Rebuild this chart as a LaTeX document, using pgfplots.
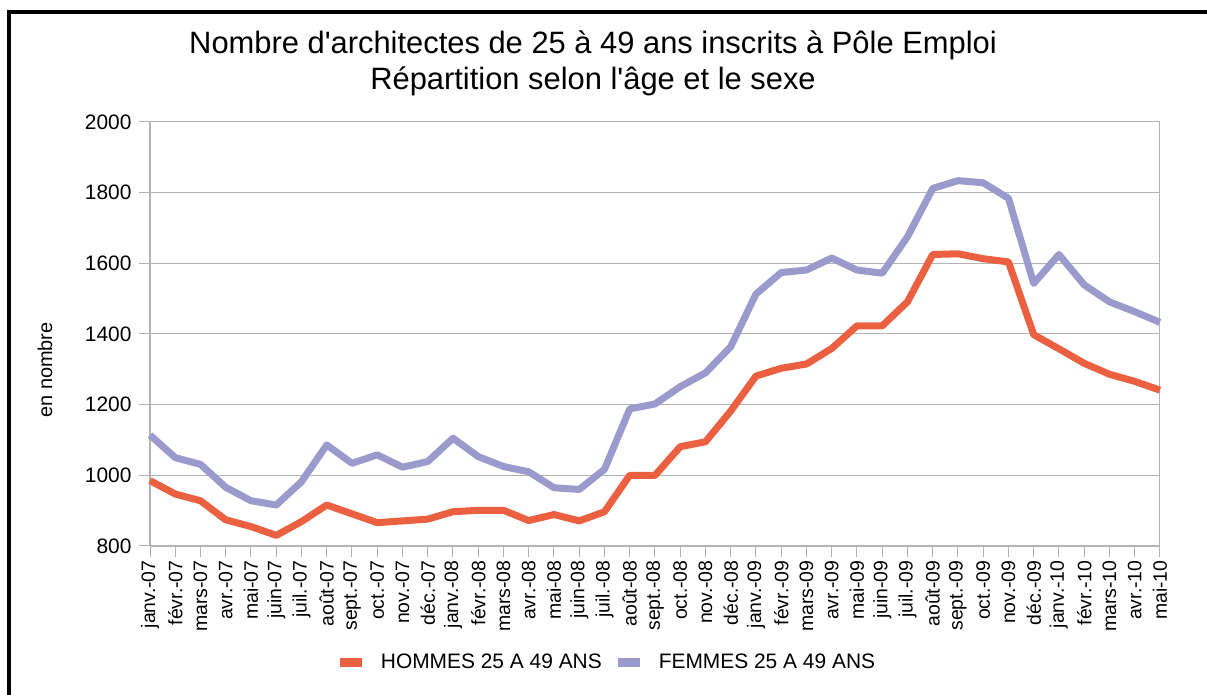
\documentclass[border=0pt]{standalone}
\usepackage{fontspec}
\setmainfont{Liberation Sans}
\usepackage{pgfplots}
\pgfplotsset{compat=1.18}
\definecolor{hommes}{HTML}{EB6040}
\definecolor{femmes}{HTML}{9A9ACC}
\definecolor{grille}{HTML}{B3B3B3}

\pgfplotstableread{
i hommes femmes
0 985 1114
1 947 1050
2 928 1031
3 874 966
4 855 928
5 830 916
6 869 982
7 916 1086
8 891 1034
9 866 1058
10 871 1023
11 876 1039
12 897 1105
13 901 1053
14 901 1025
15 872 1010
16 889 965
17 871 960
18 897 1017
19 1000 1188
20 1000 1202
21 1081 1251
22 1095 1290
23 1182 1364
24 1281 1513
25 1303 1574
26 1315 1581
27 1359 1615
28 1423 1581
29 1423 1572
30 1491 1675
31 1625 1812
32 1627 1834
33 1613 1828
34 1604 1784
35 1398 1543
36 1358 1625
37 1317 1539
38 1286 1491
39 1266 1463
40 1241 1433
}\donnees

\begin{document}
\begin{tikzpicture}[x=1bp,y=1bp]
\path[use as bounding box] (0,0) rectangle (1207,695);
\draw[line width=4.5bp] (9,-5) -- (9,683) -- (1212,683);
\node[font=\fontsize{31}{36}\selectfont, align=center] at (593,632)
  {Nombre d\textquotesingle architectes de 25 à 49 ans inscrits à Pôle Emploi\\Répartition selon l\textquotesingle âge et le sexe};
\node[font=\fontsize{20}{24}\selectfont, rotate=90] at (45,325) {en nombre};
\begin{axis}[
  at={(150bp,149bp)}, anchor=south west,
  scale only axis, width=1010bp, height=424bp,
  xmin=0, xmax=40, ymin=800, ymax=2000,
  xtick={0,...,40},
  xticklabels={janv.-07,févr.-07,mars-07,avr.-07,mai-07,juin-07,juil.-07,août-07,sept.-07,oct.-07,nov.-07,déc.-07,
    janv.-08,févr.-08,mars-08,avr.-08,mai-08,juin-08,juil.-08,août-08,sept.-08,oct.-08,nov.-08,déc.-08,
    janv.-09,févr.-09,mars-09,avr.-09,mai-09,juin-09,juil.-09,août-09,sept.-09,oct.-09,nov.-09,déc.-09,
    janv.-10,févr.-10,mars-10,avr.-10,mai-10},
  ytick={800,1000,...,2000},
  /pgf/number format/assume math mode=true,
  /pgf/number format/1000 sep={},
  xticklabel style={rotate=90, anchor=east, font=\fontsize{19.5}{22}\selectfont},
  yticklabel style={font=\fontsize{21}{24}\selectfont, xshift=-4bp},
  tick align=outside, major tick length=11bp,
  tick style={draw=grille, line width=1bp},
  axis line style={draw=grille, line width=1.2bp},
  axis x line*=bottom, axis y line*=left,
  ymajorgrids, grid style={draw=grille, line width=1bp},
  clip=false,
  legend columns=2,
  legend style={draw=none, fill=none, at={(0.452,-0.274)}, anchor=center,
    font=\fontsize{21}{24}\selectfont, column sep=10bp,
    /tikz/every odd column/.style={column sep=0bp}},
  legend image code/.code={\draw[#1, line width=9bp] (0bp,0bp) -- (22bp,0bp);},
  legend cell align=left,
]
\draw[grille, line width=1bp] (rel axis cs:1,0) -- (rel axis cs:1,1);
\draw[grille, line width=1bp] (rel axis cs:0,1) -- (rel axis cs:1,1);
\addplot[hommes, line width=7bp, line join=round] table[x=i, y=hommes] {\donnees};
\addlegendentry{\hspace{12bp}HOMMES 25 A 49 ANS}
\addplot[femmes, line width=7bp, line join=round] table[x=i, y=femmes] {\donnees};
\addlegendentry{\hspace{12bp}FEMMES 25 A 49 ANS}
\end{axis}
\end{tikzpicture}
\end{document}
